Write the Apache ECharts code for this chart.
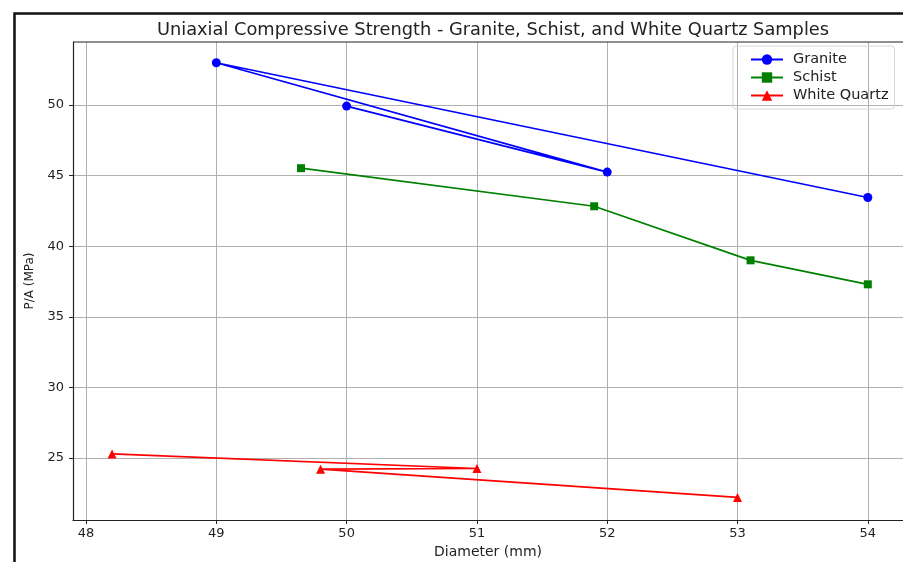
<!DOCTYPE html>
<html><head><meta charset="utf-8">
<script src="https://cdn.jsdelivr.net/npm/echarts@6/dist/echarts.min.js"></script>
<style>html,body{margin:0;padding:0;background:#fff}#c{width:903px;height:562px}</style>
</head><body><div id="c"></div>
<script>
const xTicks = [48, 49, 50, 51, 52, 53, 54];
const yTicks = [25, 30, 35, 40, 45, 50];
const graniteX = [50, 52, 49, 54];
const graniteY = [49.93, 45.25, 53.0, 43.45];
const schistX = [49.65, 51.9, 53.1, 54.0];
const schistY = [45.53, 42.83, 39.0, 37.3];
const quartzX = [48.2, 51.0, 49.8, 53.0];
const quartzY = [25.28, 24.25, 24.2, 22.2];

const pairs = (xs, ys) => xs.map((x, i) => [x, ys[i]]);
const F = 'DejaVu Sans';
const chart = echarts.init(document.getElementById('c'));
chart.setOption({
  animation: false,
  title: {text: 'Uniaxial Compressive Strength - Granite, Schist, and White Quartz Samples',
    left: 488, top: 16, textAlign: 'center',
    textStyle: {fontFamily: F, fontSize: 17.8, fontWeight: 'normal', color: '#222'}},
  grid: {left: 73, right: 0, top: 42, bottom: 42, outerBoundsMode: 'none', containLabel: false},
  xAxis: {type: 'value', min: 47.9, max: 54.27,
    name: 'Diameter (mm)', nameLocation: 'middle', nameGap: 24,
    nameTextStyle: {fontFamily: F, fontSize: 14, color: '#222'},
    axisLine: {show: true, lineStyle: {color: '#222', width: 1.2}},
    axisTick: {show: true, customValues: xTicks, length: 4, lineStyle: {color: '#222'}},
    axisLabel: {customValues: xTicks, fontFamily: F, fontSize: 13, color: '#222', margin: 7},
    splitLine: {show: true, lineStyle: {color: '#b0b0b0', width: 1}}},
  yAxis: {type: 'value', min: 20.6, max: 54.47,
    name: 'P/A (MPa)', nameLocation: 'middle', nameGap: 37, nameRotate: 90,
    nameTextStyle: {fontFamily: F, fontSize: 12, color: '#222'},
    axisLine: {show: true, lineStyle: {color: '#222', width: 1.2}},
    axisTick: {show: true, customValues: yTicks, length: 4, lineStyle: {color: '#222'}},
    axisLabel: {customValues: yTicks, fontFamily: F, fontSize: 13, color: '#222', margin: 9},
    splitLine: {show: true, lineStyle: {color: '#b0b0b0', width: 1}}},
  legend: {left: 733, top: 46, orient: 'vertical', itemGap: 3, itemWidth: 32, itemHeight: 13,
    padding: [6, 6, 6, 17], borderColor: '#d6d6d6', borderWidth: 1, borderRadius: 3,
    textStyle: {fontFamily: F, fontSize: 14.5, color: '#222', padding: [0, 0, 0, 5]},
    data: ['Granite', 'Schist', 'White Quartz']},
  graphic: [
    {type: 'rect', left: 12, top: 11, z: 100, silent: true,
     shape: {width: 1000, height: 1000}, style: {fill: null, stroke: '#111', lineWidth: 2.5}},
    {type: 'line', z: 100, shape: {x1: 73, y1: 42, x2: 903, y2: 42}, style: {stroke: '#222', lineWidth: 1.2}}
  ],
  series: [
    {name: 'Granite', type: 'line', data: pairs(graniteX, graniteY), color: '#0000ff',
     symbol: 'circle', symbolSize: 9, lineStyle: {width: 1.7}},
    {name: 'Schist', type: 'line', data: pairs(schistX, schistY), color: '#008000',
     symbol: 'rect', symbolSize: 8, lineStyle: {width: 1.7}},
    {name: 'White Quartz', type: 'line', data: pairs(quartzX, quartzY), color: '#ff0000',
     symbol: 'triangle', symbolSize: 9, lineStyle: {width: 1.7}}
  ]
});
</script></body></html>
